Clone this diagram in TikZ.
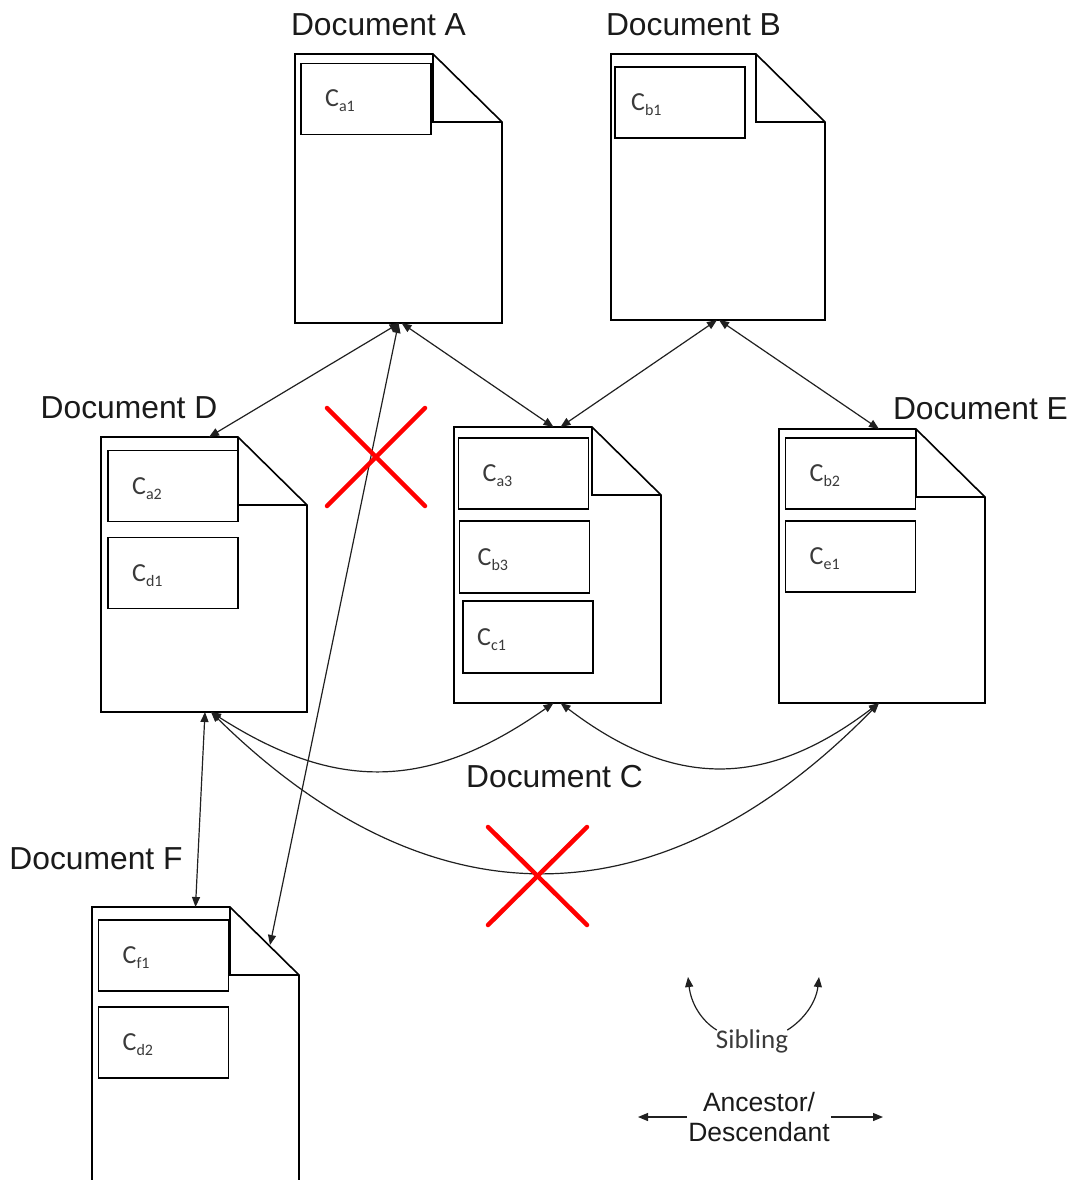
\documentclass[tikz,border=0pt]{standalone}
\usepackage{fontspec}
\setmainfont{Liberation Sans}
\newfontfamily\carlitofont{Carlito}
\usetikzlibrary{arrows.meta}
\definecolor{docgray}{HTML}{1A1A1A}
\definecolor{labelgray}{HTML}{3A3A3A}
\definecolor{linkgray}{HTML}{202020}
% chunk label: C with a lowered index
\newcommand\csub[2]{{\carlitofont\fontsize{26}{30}\selectfont #1\raisebox{-5pt}{\fontsize{16}{18}\selectfont #2}}}
% page outline with a folded top-right corner
\newcommand\foldpage[1]{%
  \draw[pageline] (#1.north west) -- ([xshift=-69pt]#1.north east) -- ([yshift=-68pt]#1.north east)
    -- (#1.south east) -- (#1.south west) -- cycle;
  \draw[pageline] ([xshift=-69pt]#1.north east) |- ([yshift=-68pt]#1.north east);}
\begin{document}
\begin{tikzpicture}[x=1pt,y=-1pt,
  pagenode/.style={inner sep=0pt, outer sep=0pt},
  pageline/.style={draw=black, line width=1.6pt, line join=miter},
  cbox/.style={draw=black, line width=1.6pt, inner sep=0pt, outer sep=0pt, minimum width=130pt, minimum height=71pt},
  clabel/.style={anchor=base west, inner sep=0pt, text=labelgray},
  doclabel/.style={anchor=base, inner sep=0pt, text=docgray, font=\fontsize{31.8}{36}\selectfont},
  link/.style={draw=linkgray, line width=1.2pt, {Triangle[length=10pt,width=8pt]}-{Triangle[length=10pt,width=8pt]}},
  onelink/.style={draw=linkgray, line width=1.2pt, -{Triangle[length=10pt,width=8pt]}},
  cross/.style={draw=red, line width=4.5pt, line cap=round}]
\useasboundingbox (0,0) rectangle (1072,1180);
\clip (0,0) rectangle (1072,1180);

% ---- documents ----
\node[pagenode, minimum width=207pt, minimum height=269pt] (A) at (398.5,188.5) {};
\node[pagenode, minimum width=214pt, minimum height=266pt] (B) at (718,187) {};
\node[pagenode, minimum width=206pt, minimum height=275pt] (D) at (204,574.5) {};
\node[pagenode, minimum width=207pt, minimum height=276pt] (C) at (557.5,565) {};
\node[pagenode, minimum width=206pt, minimum height=274pt] (E) at (882,566) {};
\node[pagenode, minimum width=207pt, minimum height=293pt] (F) at (195.5,1053.5) {};
\foreach \p in {A,B,C,D,E,F} {\foldpage{\p}}

% ---- document titles ----
\node[doclabel] (tA) at (378.5,36) {Document A};
\node[doclabel] (tB) at (693.5,36) {Document B};
\node[doclabel] (tD) at (129,418) {Document D};
\node[doclabel] (tE) at (980.5,419) {Document E};
\node[doclabel] (tC) at (554.5,787) {Document C};
\node[doclabel] (tF) at (96,869) {Document F};

% ---- chunks ----
\node[cbox] (ca1) at (366,99) {};
\node[clabel] (lca1) at ([xshift=24pt,yshift=-8pt]ca1.west) {\csub{C}{a1}};
\node[cbox] (cb1) at (680,102.5) {};
\node[clabel] (lcb1) at ([xshift=16pt,yshift=-8pt]cb1.west) {\csub{C}{b1}};
\node[cbox] (ca2) at (173,486) {};
\node[clabel] (lca2) at ([xshift=24pt,yshift=-8pt]ca2.west) {\csub{C}{a2}};
\node[cbox] (cd1) at (173,573) {};
\node[clabel] (lcd1) at ([xshift=24pt,yshift=-8pt]cd1.west) {\csub{C}{d1}};
\node[cbox] (ca3) at (523.5,473.5) {};
\node[clabel] (lca3) at ([xshift=24pt,yshift=-8pt]ca3.west) {\csub{C}{a3}};
\node[cbox, minimum height=72pt] (cb3) at (524.5,557) {};
\node[clabel] (lcb3) at ([xshift=18pt,yshift=-8pt]cb3.west) {\csub{C}{b3}};
\node[cbox, minimum height=72pt] (cc1) at (528,637) {};
\node[clabel] (lcc1) at ([xshift=14pt,yshift=-8pt]cc1.west) {\csub{C}{c1}};
\node[cbox] (cb2) at (850.5,473.5) {};
\node[clabel] (lcb2) at ([xshift=24pt,yshift=-8pt]cb2.west) {\csub{C}{b2}};
\node[cbox] (ce1) at (850.5,556.5) {};
\node[clabel] (lce1) at ([xshift=24pt,yshift=-8pt]ce1.west) {\csub{C}{e1}};
\node[cbox] (cf1) at (163.5,955.5) {};
\node[clabel] (lcf1) at ([xshift=24pt,yshift=-8pt]cf1.west) {\csub{C}{f1}};
\node[cbox] (cd2) at (163.5,1042.5) {};
\node[clabel] (lcd2) at ([xshift=24pt,yshift=-8pt]cd2.west) {\csub{C}{d2}};

% ---- ancestor / descendant links ----
\draw[link] ([xshift=1pt]A.south) -- ([xshift=5pt]D.north);
\draw[link] ([xshift=3pt]A.south) -- ([xshift=-4pt]C.north);
\draw[link] (A.south) -- ([xshift=-29pt,yshift=-38pt]F.north east);
\draw[link] ([xshift=-1pt]B.south) -- ([xshift=3pt]C.north);
\draw[link] ([xshift=1pt]B.south) -- ([xshift=-3pt]E.north);
\draw[link] ([xshift=1pt]D.south) -- (F.north);

% ---- sibling links ----
\draw[link] ([xshift=7pt]D.south) .. controls +(125,80) and +(-125,88) .. ([xshift=-4pt]C.south);
\draw[link] ([xshift=3pt]C.south) .. controls +(113,86) and +(-113,86) .. ([xshift=-3pt]E.south);
\draw[link] ([xshift=7pt]D.south) .. controls +(219,215) and +(-219,224) .. ([xshift=-3pt]E.south);

% ---- invalid relations ----
\draw[cross] (327,408) -- (425,506);
\draw[cross] (327,506) -- (425,408);
\draw[cross] (488,827) -- (587,925);
\draw[cross] (488,925) -- (587,827);

% ---- legend ----
\node[inner sep=0pt, text=labelgray, font=\carlitofont\fontsize{27}{30}\selectfont] (sib) at (752,1041) {Sibling};
\coordinate (sibL) at (688,977);
\coordinate (sibR) at (819,977);
\draw[onelink] ([xshift=1pt,yshift=-1pt]sib.north west) .. controls +(-16,-10) and +(3,26) .. (sibL);
\draw[onelink] ([xshift=-1pt,yshift=-1pt]sib.north east) .. controls +(16,-10) and +(-3,26) .. (sibR);
\node[inner sep=0pt, align=center, text=docgray, font=\fontsize{26.5}{30}\selectfont] (anc) at (759,1117) {Ancestor/\\Descendant};
\coordinate (ancL) at (638,1117);
\coordinate (ancR) at (883,1117);
\draw[onelink] ([xshift=-1pt]anc.west) -- (ancL);
\draw[onelink] ([xshift=1pt]anc.east) -- (ancR);
\end{tikzpicture}
\end{document}
